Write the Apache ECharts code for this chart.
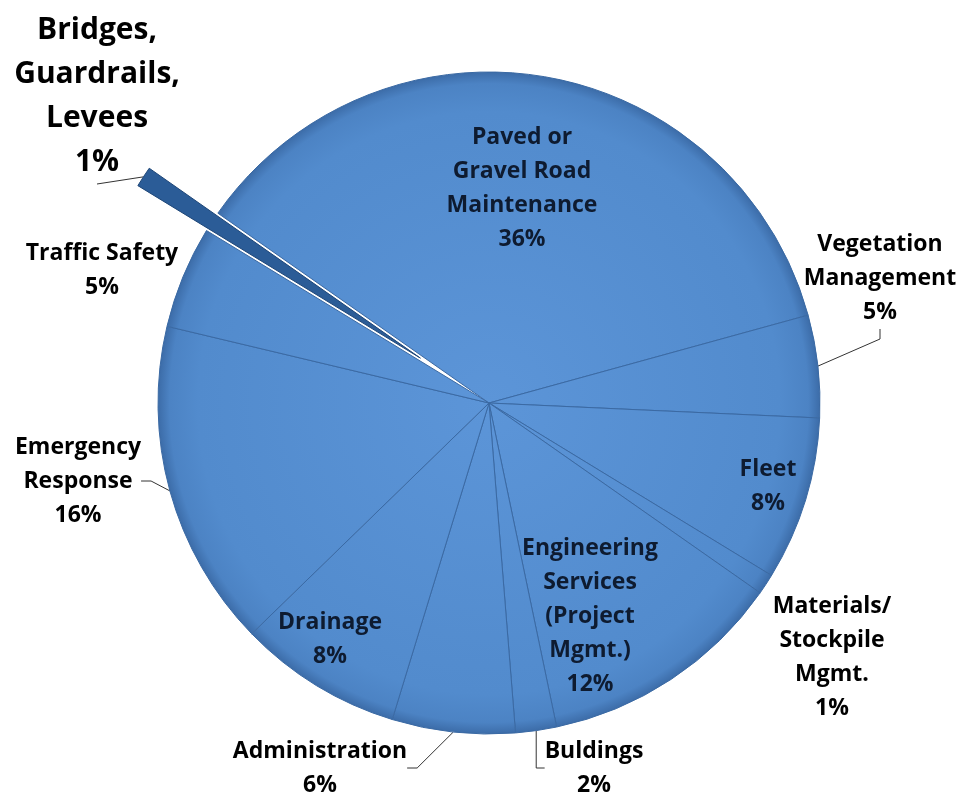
<!DOCTYPE html>
<html>
<head>
<meta charset="utf-8">
<title>Road Department Budget</title>
<script src="https://cdn.jsdelivr.net/npm/echarts@6/dist/echarts.min.js"></script>
<style>
  html, body { margin: 0; padding: 0; background: #fff; }
  #chart { width: 971px; height: 808px; }
</style>
</head>
<body>
<div id="chart"></div>
<script>
// categories, clockwise from the top-left edge of the big slice
const categories = [
  "Paved or\nGravel Road\nMaintenance",
  "Vegetation\nManagement",
  "Fleet",
  "Materials/\nStockpile\nMgmt.",
  "Engineering\nServices\n(Project\nMgmt.)",
  "Buldings",
  "Administration",
  "Drainage",
  "Emergency\nResponse",
  "Traffic Safety",
  "Bridges,\nGuardrails,\nLevees",
];
const shares = [36, 5, 8, 1, 12, 2, 6, 8, 16, 5, 1];
const pulledOut = "Bridges,\nGuardrails,\nLevees";

// label placement (block centre), one per slice
const labelPos = [
  [522, 188], [880, 278], [768, 486], [832, 657], [590, 616], [594, 768],
  [320, 768], [330, 639], [78, 481], [102, 270], [97, 96],
];
const insideLabel = [true, false, true, false, true, false, false, true, false, false, false];
const showLine = [false, true, false, false, false, true, true, false, true, false, true];

const startAngle = 145;
const pieCenter = [489, 403];
const pieRadius = 331;
const pullDistance = 82;

const chart = echarts.init(document.getElementById("chart"));

const fill = new echarts.graphic.RadialGradient(pieCenter[0], pieCenter[1], pieRadius, [
  { offset: 0, color: "#5C95D8" },
  { offset: 0.88, color: "#528BCD" },
  { offset: 0.965, color: "#4C83C4" },
  { offset: 1, color: "#3C6CA8" },
], true);

// where the pulled-out wedge sits: shift its pie along the slice bisector
const pullIndex = categories.indexOf(pulledOut);
const before = shares.slice(0, pullIndex).reduce((a, b) => a + b, 0);
const total = shares.reduce((a, b) => a + b, 0);
const midDeg = startAngle - (before + shares[pullIndex] / 2) / total * 360;
const pullCenter = [
  pieCenter[0] + pullDistance * Math.cos(midDeg * Math.PI / 180),
  pieCenter[1] - pullDistance * Math.sin(midDeg * Math.PI / 180),
];

const hidden = { color: "transparent", borderColor: "transparent" };

const mainData = categories.map((name, i) => {
  if (i === pullIndex) {
    return { name: name, value: shares[i], itemStyle: hidden, label: { show: false }, labelLine: { show: false } };
  }
  return {
    name: name,
    value: shares[i],
    label: { color: insideLabel[i] ? "#0E1B30" : "#000" },
    labelLine: { show: showLine[i] },
  };
});

const pulledData = categories.map((name, i) => {
  if (i !== pullIndex) {
    return { name: name, value: shares[i], itemStyle: hidden, label: { show: false }, labelLine: { show: false } };
  }
  return {
    name: name,
    value: shares[i],
    itemStyle: { color: "#2B5C97", borderColor: "#1E4677", borderWidth: 1 },
    label: { color: "#000", fontSize: 30, lineHeight: 44 },
    labelLine: { show: showLine[i] },
  };
});

const baseLabel = {
  show: true,
  position: "outside",
  formatter: "{b}\n{c}%",
  fontFamily: "Open Sans",
  fontWeight: "bold",
  fontSize: 23,
  lineHeight: 34,
  align: "center",
};
const baseLine = {
  show: true,
  length: 8,
  length2: 10,
  lineStyle: { color: "#333", width: 1 },
};
const layoutFn = function (p) {
  const pos = labelPos[p.dataIndex];
  return { x: pos[0], y: pos[1], align: "center", verticalAlign: "middle" };
};

chart.setOption({
  animation: false,
  series: [
    {
      type: "pie",
      center: pieCenter,
      radius: pieRadius,
      startAngle: startAngle,
      clockwise: true,
      avoidLabelOverlap: false,
      itemStyle: { color: fill, borderColor: "#3A69A3", borderWidth: 1 },
      label: baseLabel,
      labelLine: baseLine,
      labelLayout: layoutFn,
      emphasis: { disabled: true },
      data: mainData,
    },
    {
      type: "pie",
      center: pullCenter,
      radius: pieRadius,
      startAngle: startAngle,
      clockwise: true,
      avoidLabelOverlap: false,
      label: baseLabel,
      labelLine: baseLine,
      labelLayout: layoutFn,
      emphasis: { disabled: true },
      data: pulledData,
    },
  ],
});
</script>
</body>
</html>
